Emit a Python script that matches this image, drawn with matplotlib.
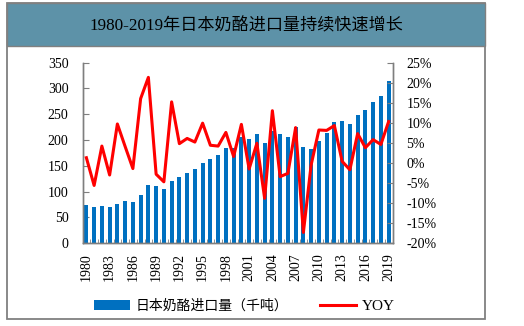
import matplotlib
matplotlib.use('Agg')
import matplotlib.pyplot as plt
from matplotlib.patches import Rectangle, Patch
from matplotlib.lines import Line2D
from matplotlib.ticker import FuncFormatter

# data
years = list(range(1980, 2020))
imports = [74, 70, 73, 71, 77, 81, 80, 93, 113, 110,
           105, 121, 128, 136, 143, 156, 163, 170, 184, 185,
           205, 201, 212, 194, 218, 212, 206, 225, 186, 183,
           198, 214, 235, 236, 231, 249, 258, 273, 286, 314]
yoy = [1.3, -5.6, 4.2, -3.0, 9.7, 4.1, -1.4, 16.0, 21.3, -2.8,
       -4.7, 15.2, 4.8, 6.1, 5.2, 9.9, 4.4, 4.2, 7.6, 1.6,
       9.6, -1.5, 4.9, -8.8, 13.0, -3.4, -2.6, 8.8, -17.3, -0.5,
       8.2, 8.1, 9.3, 0.4, -1.7, 7.3, 3.8, 5.8, 4.6, 10.3]
xlabels = [str(y) if (y - 1980) % 3 == 0 else '' for y in years]

serif_cjk = ['Liberation Serif', 'Noto Sans CJK SC', 'DejaVu Sans']
plt.rcParams['font.family'] = serif_cjk

fig = plt.figure(figsize=(5.24, 3.26), dpi=100)

# outer frame and title band
fig.patches.append(Rectangle((7 / 524, 1 - 319 / 326), 478 / 524, 316 / 326,
                             transform=fig.transFigure, facecolor='white',
                             edgecolor='#808080', lw=1.3, zorder=-10))
fig.patches.append(Rectangle((7 / 524, 1 - 46 / 326), 478 / 524, 43 / 326,
                             transform=fig.transFigure, facecolor='#5d92a8',
                             edgecolor='#808080', lw=1.0, zorder=-9))
fig.text(246 / 524, 1 - 26 / 326, '1980-2019年日本奶酪进口量持续快速增长',
         ha='center', va='center', fontsize=12.3, color='black')

ax = fig.add_axes([82.5 / 524, 1 - 243.3 / 326, 310 / 524, 180.8 / 326])
ax2 = ax.twinx()
ax.set_zorder(1)
ax2.set_zorder(2)

x = list(range(len(years)))
ax.bar(x, imports, width=0.5, color='#0070c0', zorder=2)
ax2.plot(x, yoy, color='#ff0000', lw=2.2, zorder=3)

ax.set_xlim(-0.42, 39.42)
ax.set_ylim(0, 350)
ax.set_yticks(range(0, 351, 50))
ax2.set_ylim(-20, 25)
ax2.set_yticks(range(-20, 26, 5))
ax2.yaxis.set_major_formatter(FuncFormatter(lambda v, p: '%d%%' % v))

ax.set_xticks(x)
ax.set_xticklabels(xlabels, rotation=90)
ax.set_xticks([i + 0.5 for i in range(-1, len(years))], minor=True)

for a in (ax, ax2):
    a.spines['top'].set_visible(False)
    for s in ('left', 'right', 'bottom'):
        a.spines[s].set_color('#7f7f7f')
        a.spines[s].set_linewidth(1.0)
    a.patch.set_visible(False)

ax.tick_params(axis='x', which='major', length=0, pad=7, labelsize=10)
ax.tick_params(axis='x', which='minor', length=3, direction='in', color='#7f7f7f')
ax.tick_params(axis='y', direction='in', length=4, pad=10, labelsize=10, color='#7f7f7f')
ax2.tick_params(axis='y', direction='in', length=4, pad=10, labelsize=10, color='#7f7f7f')

handles = [Patch(facecolor='#0070c0', edgecolor='none'),
           Line2D([], [], color='#ff0000', lw=2.2)]
leg = fig.legend(handles, ['日本奶酪进口量（千吨）', 'YOY'], ncol=2,
                 loc='center', bbox_to_anchor=(244 / 524, 1 - 306 / 326),
                 frameon=False, fontsize=10, handlelength=2.6,
                 handletextpad=0.4, columnspacing=2.3)
leg.get_texts()[1].set_fontsize(11)

fig.savefig('out.png', dpi=100)
